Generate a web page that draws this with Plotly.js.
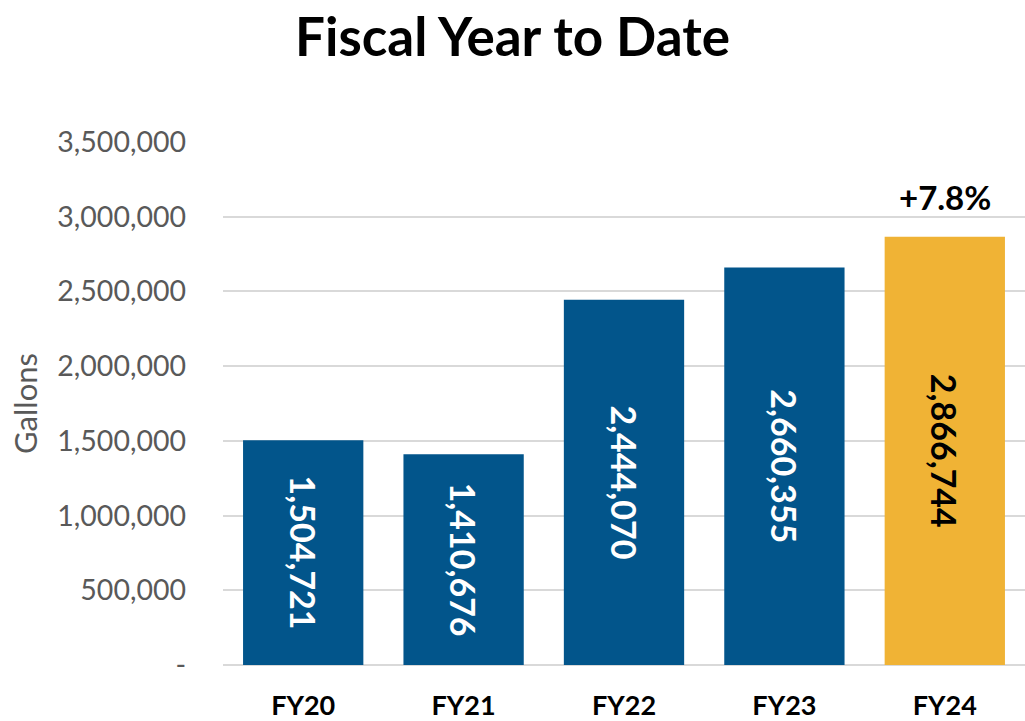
<!DOCTYPE html>
<html>
<head>
<meta charset="utf-8">
<script src="https://cdn.plot.ly/plotly-3.0.1.min.js"></script>
<style>html,body{margin:0;padding:0;background:#fff;}#chart{width:1025px;height:721px;}</style>
</head>
<body>
<div id="chart"></div>
<script>
const categories = ["FY20", "FY21", "FY22", "FY23", "FY24"];
const gallons = [1504721, 1410676, 2444070, 2660355, 2866744];
const barColors = ["#02558B", "#02558B", "#02558B", "#02558B", "#F0B335"];
const labelColors = ["#ffffff", "#ffffff", "#ffffff", "#ffffff", "#000000"];
const tickVals = [0, 500000, 1000000, 1500000, 2000000, 2500000, 3000000, 3500000];
const tickText = ["-", "500,000", "1,000,000", "1,500,000", "2,000,000", "2,500,000", "3,000,000", "3,500,000"];
const changeLabel = "+7.8%";

const FONT = "Lato, 'Open Sans', sans-serif";

const trace = {
  type: "bar",
  x: categories,
  y: gallons,
  width: 0.75,
  marker: { color: barColors, line: { width: 0 } },
  text: gallons.map(v => v.toLocaleString("en-US")),
  textposition: "inside",
  insidetextanchor: "middle",
  textangle: 90,
  constraintext: "none",
  textfont: { family: FONT, size: 34, color: labelColors, weight: "bold" },
  hoverinfo: "skip"
};

const layout = {
  width: 1025,
  height: 721,
  margin: { l: 223, r: 0, t: 142, b: 56 },
  paper_bgcolor: "#ffffff",
  plot_bgcolor: "#ffffff",
  showlegend: false,
  bargap: 0.25,
  title: {
    text: "<b>Fiscal Year to Date</b>",
    font: { family: FONT, size: 53, color: "#000000" },
    x: 0.5, xanchor: "center", xref: "container",
    y: 0.948, yanchor: "middle", yref: "container"
  },
  xaxis: {
    type: "category",
    showgrid: false,
    showline: false,
    zeroline: false,
    ticks: "",
    tickfont: { family: FONT, size: 27, color: "#000000", weight: "bold" },
    ticklabelstandoff: 22
  },
  yaxis: {
    range: [0, 3500000],
    tickvals: tickVals,
    ticktext: tickText,
    tickfont: { family: FONT, size: 28.5, color: "#595959" },
    ticks: "",
    ticklabelstandoff: 36,
    showgrid: true,
    gridcolor: "#D9D9D9",
    gridwidth: 2,
    zeroline: true,
    zerolinecolor: "#D9D9D9",
    zerolinewidth: 2,
    showline: false,
    title: {
      text: "Gallons",
      font: { family: FONT, size: 31, color: "#595959" },
      standoff: 10
    }
  },
  annotations: [{
    x: categories[4],
    y: gallons[4],
    xref: "x", yref: "y",
    text: "<b>" + changeLabel + "</b>",
    showarrow: false,
    yanchor: "bottom",
    yshift: 18,
    font: { family: FONT, size: 33, color: "#000000" }
  }]
};

Plotly.newPlot("chart", [trace], layout, { displayModeBar: false, staticPlot: true });
</script>
</body>
</html>
